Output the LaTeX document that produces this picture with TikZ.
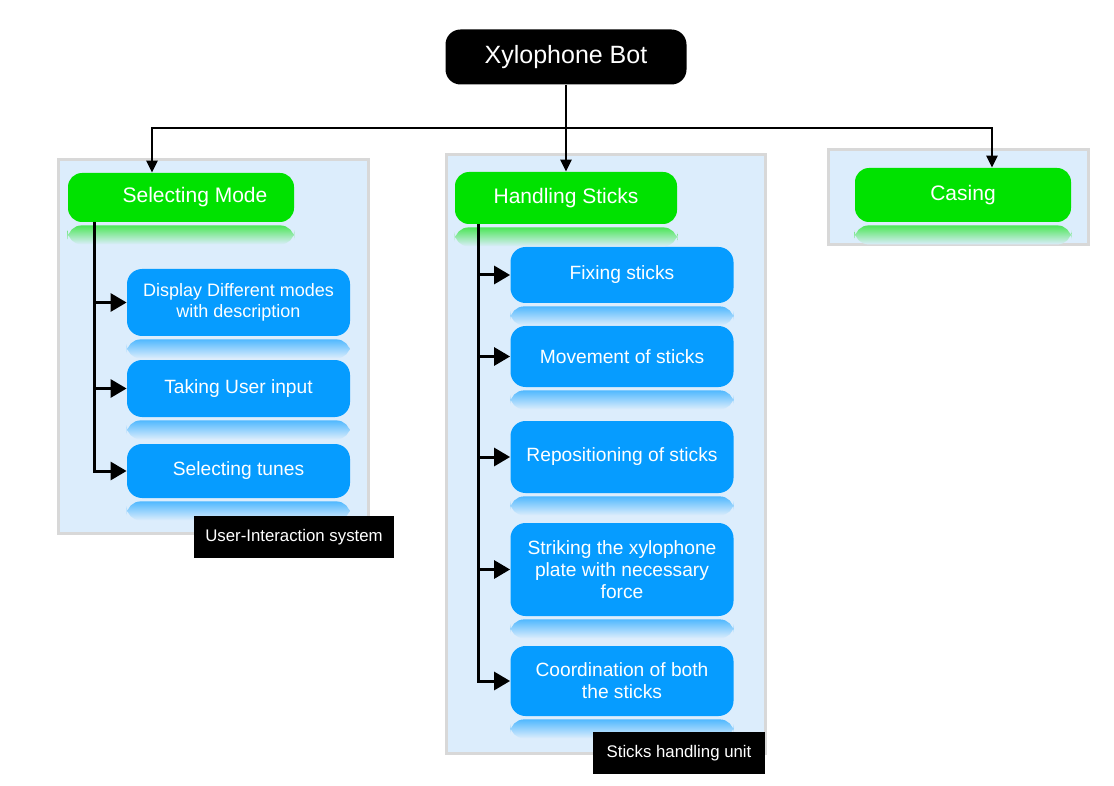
\documentclass[tikz,border=0pt]{standalone}
\usepackage{fontspec}
\setmainfont{Liberation Sans}
\usepackage{xcolor}
\usetikzlibrary{arrows.meta}
\definecolor{botgreen}{RGB}{0,226,0}
\definecolor{botblue}{RGB}{6,156,255}
\definecolor{panelblue}{RGB}{220,237,252}
\definecolor{panelgrey}{RGB}{216,216,216}

\tikzset{
  rootbox/.style={fill=black,text=white,rounded corners=7.5pt,minimum width=120.5pt,minimum height=27.5pt,font=\fontsize{12.5}{15}\selectfont},
  headbox/.style={fill=botgreen,text=white,rounded corners=7pt,font=\fontsize{10.5}{13}\selectfont},
  subbox/.style={fill=botblue,text=white,rounded corners=7.5pt,minimum width=111.5pt,align=center,font=\fontsize{9.6}{11}\selectfont},
  panel/.style={fill=panelblue,draw=panelgrey,line width=1.5pt},
  tagbox/.style={fill=black,text=white,minimum height=21pt,font=\fontsize{8.4}{10}\selectfont},
  feed/.style={line width=1.2pt,-{Triangle[length=6pt,width=5.5pt]}},
  stem/.style={line width=1.5pt,-{Triangle[length=8pt,width=9pt]}}
}
\newcommand{\glow}[2]{\shade[top color=#2!65!panelblue,bottom color=panelblue,rounded corners=7pt] ([yshift=-1.5pt]#1.south west) rectangle ([yshift=-11pt]#1.south east);}

\begin{document}
\begin{tikzpicture}[x=0.5pt,y=-0.5pt]
% Xylophone Bot 结构图
\useasboundingbox (0,0) rectangle (1114,786);
\draw[panel] (58,160) rectangle (368,533);
\draw[panel] (446,155) rectangle (765,753);
\draw[panel] (828,150) rectangle (1088,245);

\node[rootbox] (root) at (566,57) {\raisebox{-1pt}{Xylophone Bot}};
\node[headbox,minimum width=113pt,minimum height=24.5pt] (sel) at (181,197.5) {\hspace{14pt}Selecting Mode};
\node[headbox,minimum width=111pt,minimum height=26pt] (hs) at (566,198) {Handling Sticks};
\node[headbox,minimum width=108pt,minimum height=27pt] (cas) at (963,195) {Casing};

\node[subbox,minimum height=33.5pt,font=\fontsize{9}{10.5}\selectfont] (disp) at (238.5,302.5) {Display Different modes\\with description};
\node[subbox,minimum height=28.5pt] (take) at (238.5,388.5) {Taking User input};
\node[subbox,minimum height=27pt] (tune) at (238.5,471) {Selecting tunes};

\node[subbox,minimum height=28pt] (fix) at (622,275) {Fixing sticks};
\node[subbox,minimum height=30.5pt] (move) at (622,356.5) {Movement of sticks};
\node[subbox,minimum height=36pt] (repos) at (622,457) {Repositioning of sticks};
\node[subbox,minimum height=46.5pt] (strike) at (622,569.5) {Striking the xylophone\\plate with necessary\\force};
\node[subbox,minimum height=35pt] (coord) at (622,681) {Coordination of both\\the sticks};

\glow{sel}{botgreen}
\glow{hs}{botgreen}
\glow{cas}{botgreen}
\foreach \b in {disp,take,tune,fix,move,repos,strike,coord}
  {\glow{\b}{botblue}}

\coordinate (bus) at (566,128);
\draw[feed] (root.south) -- (hs.north);
\draw[feed] (bus) -| ([xshift=-14.5pt]sel.north);
\draw[feed] (bus) -| ([xshift=14.5pt]cas.north);

\coordinate (sels) at ([xshift=13.5pt]sel.south west);
\draw[stem] (sels) |- (tune.west);
\foreach \b in {disp,take}
  \draw[stem] (sels |- \b.west) -- (\b.west);

\coordinate (hss) at ([xshift=12pt]hs.south west);
\draw[stem] (hss) |- (coord.west);
\foreach \b in {fix,move,repos,strike}
  \draw[stem] (hss |- \b.west) -- (\b.west);

\node[tagbox,minimum width=100pt] (uis) at (294,537) {User-Interaction system};
\node[tagbox,minimum width=86pt] (shu) at (679,753) {Sticks handling unit};
\end{tikzpicture}
\end{document}
